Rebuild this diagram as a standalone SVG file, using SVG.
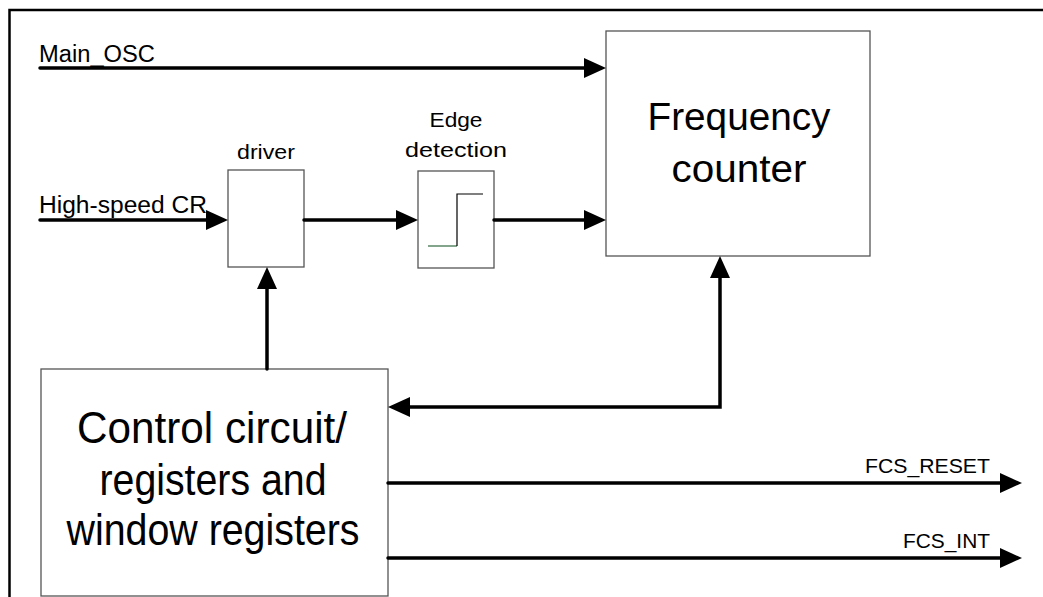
<svg xmlns="http://www.w3.org/2000/svg" width="1043" height="597" viewBox="0 0 1043 597">
<style>
  text { font-family: "Liberation Sans", Arial, sans-serif; fill: #000; }
  .box { fill: #fff; stroke: #555; stroke-width: 1.3; }
  .wire { fill: none; stroke: #000; stroke-width: 3.5; stroke-linecap: round; stroke-linejoin: miter; }
  .sig { font-size: 23.5px; }
  .small { font-size: 20px; text-anchor: middle; }
  .big { font-size: 38px; text-anchor: middle; }
  .ctl { font-size: 44px; text-anchor: middle; }
  .out { font-size: 21px; text-anchor: end; }
</style>
<defs>
  <marker id="arr" markerUnits="userSpaceOnUse" markerWidth="22" markerHeight="20" viewBox="0 0 22 20" refX="12" refY="10" orient="auto-start-reverse">
    <path d="M0,0 L22,10 L0,20 z" fill="#000"/>
  </marker>
</defs>
<rect id="frame" x="9.5" y="10" width="1100" height="700" fill="#fff" stroke="#000" stroke-width="2.5"/>

<g id="freq-counter">
  <rect class="box" x="606" y="31" width="264" height="225"/>
  <text class="big" x="739" y="130" textLength="183" lengthAdjust="spacingAndGlyphs">Frequency</text>
  <text class="big" x="739" y="182" textLength="135" lengthAdjust="spacingAndGlyphs">counter</text>
</g>

<g id="driver">
  <text class="small" x="266" y="159" textLength="58" lengthAdjust="spacingAndGlyphs">driver</text>
  <rect class="box" x="228" y="170" width="76" height="97"/>
</g>

<g id="edge-detection">
  <text class="small" x="456" y="127" textLength="53" lengthAdjust="spacingAndGlyphs">Edge</text>
  <text class="small" x="456" y="157" textLength="102" lengthAdjust="spacingAndGlyphs">detection</text>
  <rect class="box" x="418" y="171" width="76" height="97" stroke="#333"/>
  <line x1="428" y1="246" x2="457" y2="246" stroke="#2f6a40" stroke-width="1.2"/>
  <polyline points="457,246 457,194 483,194" fill="none" stroke="#000" stroke-width="1.2"/>
</g>

<g id="control">
  <rect class="box" x="41" y="369" width="347" height="227"/>
  <text class="ctl" x="212" y="443" textLength="270" lengthAdjust="spacingAndGlyphs">Control circuit/</text>
  <text class="ctl" x="213" y="495" textLength="227" lengthAdjust="spacingAndGlyphs">registers and</text>
  <text class="ctl" x="213" y="545" textLength="293" lengthAdjust="spacingAndGlyphs">window registers</text>
</g>

<g id="connectors">
  <path class="wire" d="M40,68 H596" marker-end="url(#arr)"/>
  <path class="wire" d="M40,220 H218" marker-end="url(#arr)"/>
  <path class="wire" d="M304,220 H408" marker-end="url(#arr)"/>
  <path class="wire" d="M494,220 H596" marker-end="url(#arr)"/>
  <path class="wire" d="M267,369 V277" marker-end="url(#arr)"/>
  <path class="wire" d="M398,407 H720 V266" marker-start="url(#arr)" marker-end="url(#arr)"/>
  <path class="wire" d="M388,483 H1012" marker-end="url(#arr)"/>
  <path class="wire" d="M388,558 H1012" marker-end="url(#arr)"/>
</g>

<g id="labels">
  <text class="sig" x="39" y="62" textLength="116" lengthAdjust="spacingAndGlyphs">Main_OSC</text>
  <text class="sig" x="39" y="213" textLength="168" lengthAdjust="spacingAndGlyphs">High-speed CR</text>
  <text class="out" x="990" y="473" textLength="125" lengthAdjust="spacingAndGlyphs">FCS_RESET</text>
  <text class="out" x="990" y="548" textLength="87" lengthAdjust="spacingAndGlyphs">FCS_INT</text>
</g>
</svg>
